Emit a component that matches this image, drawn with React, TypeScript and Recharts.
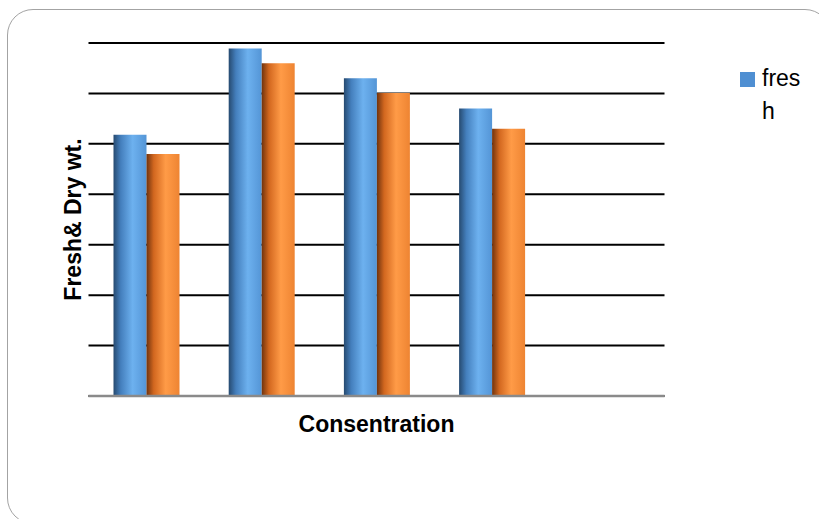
import { BarChart, Bar, XAxis, YAxis, CartesianGrid, Legend } from "recharts";

const categories = ["C1", "C2", "C3", "C4", "C5"];
const fresh = [5.18, 6.89, 6.3, 5.7, null];
const dry = [4.8, 6.6, 6.01, 5.3, null];
const yTicks = [0, 1, 2, 3, 4, 5, 6, 7];

const data = categories.map((c, i) => ({ cat: c, fresh: fresh[i], dry: dry[i] }));

const font = "'Liberation Sans', Arial, sans-serif";

const LegendBox = () => (
  <div style={{ display: "flex", alignItems: "flex-start", fontFamily: font, fontSize: 23, lineHeight: "33px", color: "#000" }}>
    <div style={{ width: 15, height: 15, background: "#4f8fd2", marginTop: 10, marginRight: 7 }} />
    <span style={{ width: 45, wordBreak: "break-all" }}>fresh</span>
  </div>
);

export default function App() {
  return (
    <div style={{ position: "absolute", left: 0, top: 0, width: 819, height: 519, overflow: "hidden", background: "#fff" }}>
      <div
        style={{
          position: "absolute",
          left: 7,
          top: 9,
          width: 824,
          height: 515,
          border: "1.5px solid #a3a3a3",
          borderRadius: 26,
          boxSizing: "border-box",
        }}
      />
      <BarChart
        width={819}
        height={519}
        data={data}
        barSize={33}
        barGap={0}
        margin={{ top: 43, right: 154.5, bottom: 67, left: 57.5 }}
        style={{ position: "absolute", left: 0, top: 0 }}
      >
        <defs>
          <linearGradient id="blueGrad" x1="0" y1="0" x2="1" y2="0">
            <stop offset="0%" stopColor="#264a70" />
            <stop offset="22%" stopColor="#447fbd" />
            <stop offset="58%" stopColor="#6db1ef" />
            <stop offset="100%" stopColor="#5495d6" />
          </linearGradient>
          <linearGradient id="orangeGrad" x1="0" y1="0" x2="1" y2="0">
            <stop offset="0%" stopColor="#70330e" />
            <stop offset="22%" stopColor="#d2671f" />
            <stop offset="58%" stopColor="#ff9b47" />
            <stop offset="100%" stopColor="#ee8432" />
          </linearGradient>
        </defs>
        <CartesianGrid vertical={false} stroke="#000" strokeWidth={2} />
        <XAxis
          dataKey="cat"
          tick={false}
          tickLine={false}
          height={56}
          axisLine={{ stroke: "#8a8a8a", strokeWidth: 2.5 }}
          label={{ value: "Consentration", position: "center", fontFamily: font, fontSize: 23, fontWeight: "bold", fill: "#000" }}
        />
        <YAxis
          domain={[0, 7]}
          ticks={yTicks}
          interval={0}
          tick={() => <g />}
          tickLine={false}
          axisLine={false}
          width={31}
          label={{ value: "Fresh& Dry wt.", angle: -90, position: "center", fontFamily: font, fontSize: 23, fontWeight: "bold", fill: "#000" }}
        />
        <Legend
          layout="horizontal"
          verticalAlign="middle"
          align="center"
          content={() => <LegendBox />}
          wrapperStyle={{ left: 740, top: 62, width: 80 }}
        />
        <Bar dataKey="fresh" name="fresh" fill="url(#blueGrad)" isAnimationActive={false} />
        <Bar dataKey="dry" name="dry" fill="url(#orangeGrad)" isAnimationActive={false} />
      </BarChart>
    </div>
  );
}
